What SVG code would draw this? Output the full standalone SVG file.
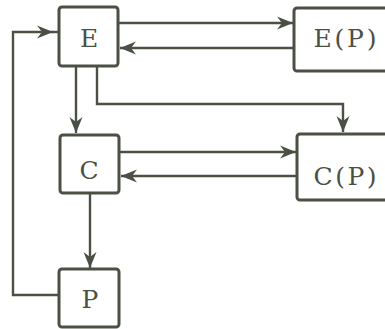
<svg xmlns="http://www.w3.org/2000/svg" width="385" height="329" viewBox="0 0 385 329">
  <defs>
    <style>
      .box { fill: #ffffff; stroke: #4b5044; stroke-width: 3; }
      .lbl { font-family: "DejaVu Serif", "Liberation Serif", serif; font-size: 25px; fill: #4b5044; text-anchor: middle; }
      .wire { fill: none; stroke: #4b5044; stroke-width: 2.4; }
    </style>
    <marker id="barb" viewBox="-17 -7 18 14" refX="0" refY="0" markerWidth="18" markerHeight="14" markerUnits="userSpaceOnUse" orient="auto">
      <path d="M0,0 L-16,-6.5 L-11,0 L-16,6.5 Z" fill="#4b5044"/>
    </marker>
  </defs>

  <rect width="385" height="329" fill="#ffffff"/>

  <g id="connectors">
    <!-- feedback P -> E along the left side, arrow mid-way -->
    <path class="wire" d="M59,295 H13 V32 H53" marker-end="url(#barb)"/>
    <path class="wire" d="M52,32 H59"/>
    <!-- E <-> E(P) -->
    <path class="wire" d="M118,23 H293" marker-end="url(#barb)"/>
    <path class="wire" d="M294,48 H120" marker-end="url(#barb)"/>
    <!-- E -> C -->
    <path class="wire" d="M76,66 V133" marker-end="url(#barb)"/>
    <!-- E -> C(P) -->
    <path class="wire" d="M97,66 V104 H343 V132" marker-end="url(#barb)"/>
    <!-- C <-> C(P) -->
    <path class="wire" d="M119,152 H296" marker-end="url(#barb)"/>
    <path class="wire" d="M297,176 H121" marker-end="url(#barb)"/>
    <!-- C -> P -->
    <path class="wire" d="M90,193 V268" marker-end="url(#barb)"/>
  </g>

  <g id="node-E">
    <rect class="box" x="59" y="7" width="59" height="59" rx="3"/>
    <text class="lbl" x="89" y="47">E</text>
  </g>
  <g id="node-EP">
    <rect class="box" x="294" y="8" width="100" height="63" rx="3"/>
    <text class="lbl" x="345" y="47" textLength="63" lengthAdjust="spacing">E(P)</text>
  </g>
  <g id="node-C">
    <rect class="box" x="60" y="135" width="59" height="58" rx="3"/>
    <text class="lbl" x="89" y="179">C</text>
  </g>
  <g id="node-CP">
    <rect class="box" x="297" y="134" width="100" height="66" rx="3"/>
    <text class="lbl" x="345" y="185" textLength="63" lengthAdjust="spacing">C(P)</text>
  </g>
  <g id="node-P">
    <rect class="box" x="59" y="269" width="60" height="58" rx="3"/>
    <text class="lbl" x="90" y="308">P</text>
  </g>
</svg>
